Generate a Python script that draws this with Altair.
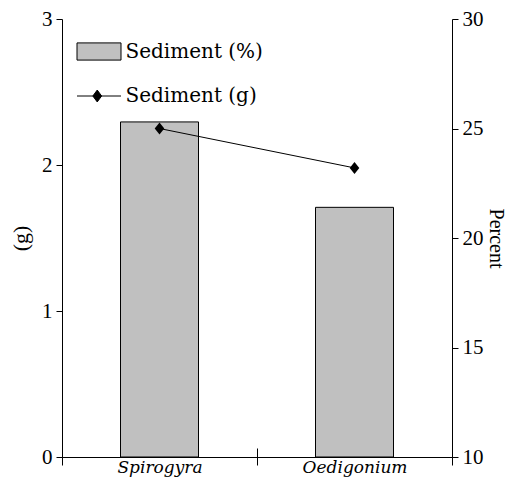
import altair as alt
import pandas as pd

categories = ["Spirogyra", "Oedigonium"]
sediment_percent = [25.3, 21.4]
sediment_grams = [2.25, 1.98]
series_names = ["Sediment (%)", "Sediment (g)"]
g_ticks = [0, 1, 2, 3]
percent_ticks = [10, 15, 20, 25, 30]

bar_df = pd.DataFrame({"category": categories, "value": sediment_percent, "series": series_names[0]})
line_df = pd.DataFrame({"category": categories, "value": sediment_grams, "series": series_names[1]})

x_scale = alt.Scale(domain=categories, paddingInner=0, paddingOuter=0)

rect_path = "M-1,-0.39H1V0.39H-1Z"
line_path = "M-1,0H1M-0.08,-0.27L0.12,0L-0.08,0.27L-0.28,0Z"

legend_common = dict(
    title=None,
    orient="none",
    padding=0,
    rowPadding=0,
    symbolSize=1936,
    symbolStrokeWidth=1,
    labelOffset=4,
    labelFont="DejaVu Serif",
    labelFontSize=20,
    labelColor="black",
    labelLimit=300,
)

bar_legend = alt.Legend(
    legendX=14.5, legendY=10, symbolType=rect_path,
    symbolStrokeColor="black", symbolFillColor="#c0c0c0", symbolOpacity=1, **legend_common
)
line_legend = alt.Legend(
    legendX=14.5, legendY=54.5, symbolType=line_path,
    symbolStrokeColor="black", symbolFillColor="black", symbolOpacity=1, **legend_common
)

x_axis_main = alt.Axis(
    title=None,
    orient="bottom",
    tickBand="extent",
    tickSize=8,
    labelPadding=-6,
    labelFont="DejaVu Serif",
    labelFontStyle="italic",
    labelFontSize=17,
    labelColor="black",
    labelAngle=0,
    domainColor="black",
    tickColor="black",
)

x_axis_up = alt.Axis(
    title=None,
    orient="bottom",
    offset=-9,
    tickBand="extent",
    tickSize=9,
    labels=False,
    domain=False,
    tickColor="black",
)

bars = alt.Chart(bar_df).mark_bar(
    width=alt.RelativeBandSize(0.4), stroke="black", strokeWidth=1, opacity=1
).encode(
    x=alt.X("category:N", scale=x_scale, axis=x_axis_main, sort=categories),
    y=alt.Y(
        "value:Q",
        scale=alt.Scale(domain=[10, 30], nice=False, zero=False),
        axis=alt.Axis(
            orient="right",
            values=percent_ticks,
            format="d",
            title="Percent",
            titleFont="Liberation Serif",
            titleFontSize=20,
            titleFontWeight="normal",
            titleColor="black",
            titlePadding=2,
            labelFont="Liberation Serif",
            labelFontSize=21,
            labelColor="black",
            labelPadding=4,
            tickSize=6,
            grid=False,
            domainColor="black",
            tickColor="black",
        ),
    ),
    y2=alt.datum(10),
    fill=alt.Fill("series:N", scale=alt.Scale(domain=[series_names[0]], range=["#c0c0c0"]), legend=bar_legend),
)

line = alt.Chart(line_df).mark_line(strokeWidth=1).encode(
    x=alt.X("category:N", scale=x_scale, axis=x_axis_up, sort=categories),
    y=alt.Y(
        "value:Q",
        scale=alt.Scale(domain=[0, 3], nice=False),
        axis=alt.Axis(
            orient="left",
            values=g_ticks,
            format="d",
            title="(g)",
            titleFont="Liberation Serif",
            titleFontSize=22,
            titleFontWeight="normal",
            titleColor="black",
            titlePadding=9,
            labelFont="Liberation Serif",
            labelFontSize=21,
            labelColor="black",
            labelPadding=4,
            tickSize=6,
            grid=False,
            domainColor="black",
            tickColor="black",
        ),
    ),
    stroke=alt.Stroke("series:N", scale=alt.Scale(domain=[series_names[1]], range=["#000000"]), legend=line_legend),
)

points = alt.Chart(line_df).mark_point(
    shape="M0,-1L0.8,0L0,1L-0.8,0Z", size=144, filled=True, color="black", opacity=1
).encode(
    x=alt.X("category:N", scale=x_scale, sort=categories),
    y=alt.Y("value:Q", scale=alt.Scale(domain=[0, 3], nice=False)),
)

chart = (
    alt.layer(bars, alt.layer(line, points))
    .resolve_scale(y="independent")
    .resolve_axis(x="independent")
    .properties(
        width=390,
        height=438,
        background="white",
        autosize=alt.AutoSizeParams(type="none"),
        padding={"left": 54, "top": 11, "right": 57, "bottom": 20},
    )
    .configure_view(stroke=None)
    .configure_legend(labelFont="DejaVu Serif", labelFontSize=20)
    .configure_axis(labelFont="Liberation Serif")
)

chart.save("out.html", embed_options={"renderer": "svg", "actions": False})
